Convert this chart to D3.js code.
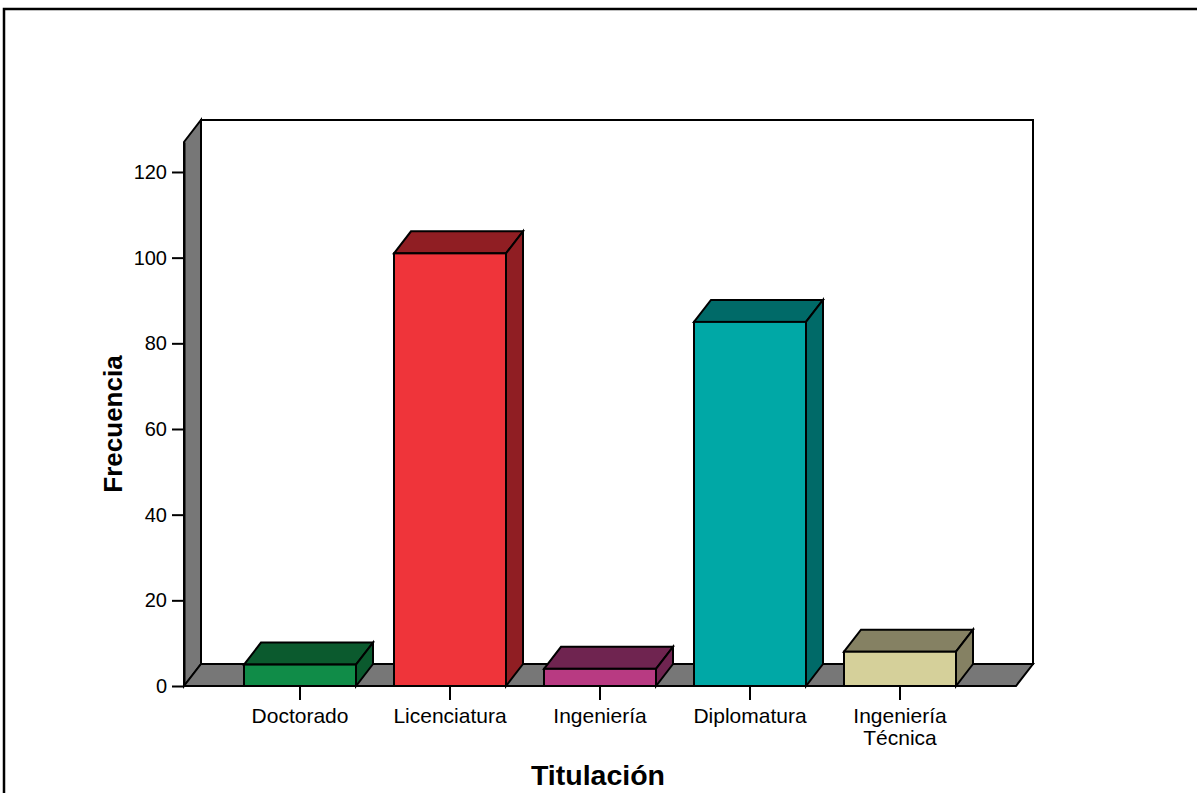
<!DOCTYPE html>
<html>
<head>
<meta charset="utf-8">
<script src="https://cdn.jsdelivr.net/npm/d3@7"></script>
<style>
  html, body { margin: 0; padding: 0; background: #fff; }
  svg { display: block; font-family: Arial, "Liberation Sans", sans-serif; }
</style>
</head>
<body>
<svg id="chart" width="1197" height="793"></svg>
<script>
// Data
const categories = ["Doctorado", "Licenciatura", "Ingeniería", "Diplomatura", "Ingeniería Técnica"];
const frequencies = [5, 101, 4, 85, 8];
const frontColors = ["#108C48", "#EF343A", "#B83A82", "#00A8A6", "#D5D09A"];
const shadeColors = ["#0B5A2E", "#901E23", "#6F2450", "#006A68", "#858163"];
const yTicks = [0, 20, 40, 60, 80, 100, 120];
const xTitle = "Titulación";
const yTitle = "Frecuencia";

const svg = d3.select("#chart");

// Outer frame (top and left borders)
svg.append("path")
  .attr("d", "M4,793 L4,9 L1197,9")
  .attr("fill", "none").attr("stroke", "#000").attr("stroke-width", 2.5);

// Scales
const x0 = 184, x1 = 1016;
const dx = 17, dy = -22;
const y = d3.scaleLinear().domain([0, 127]).range([686, 142]);
const x = d3.scaleBand().domain(categories).range([225, 975])
  .paddingInner(38 / 150).paddingOuter(19 / 150);
const y0 = y(0), yTop = y(127);
const bw = x.bandwidth();

const g = svg.append("g");
const stroke = { "stroke": "#000", "stroke-width": 2, "stroke-linejoin": "miter" };
function poly(pts, fill) {
  const p = g.append("polygon").attr("points", pts.map(d => d.join(",")).join(" ")).attr("fill", fill);
  Object.entries(stroke).forEach(([k, v]) => p.attr(k, v));
  return p;
}

// Back wall
poly([[x0 + dx, yTop + dy], [x1 + dx, yTop + dy], [x1 + dx, y0 + dy], [x0 + dx, y0 + dy]], "#fff");
// Left wall
poly([[x0, y0], [x0, yTop], [x0 + dx, yTop + dy], [x0 + dx, y0 + dy]], "#777777");
// Floor
poly([[x0, y0], [x1, y0], [x1 + dx, y0 + dy], [x0 + dx, y0 + dy]], "#777777");

// Bars
categories.forEach((c, i) => {
  const bx = x(c), yv = y(frequencies[i]);
  poly([[bx, yv], [bx + dx, yv + dy], [bx + bw + dx, yv + dy], [bx + bw, yv]], shadeColors[i]);
  poly([[bx + bw, yv], [bx + bw + dx, yv + dy], [bx + bw + dx, y0 + dy], [bx + bw, y0]], shadeColors[i]);
  const r = g.append("rect").attr("x", bx).attr("y", yv).attr("width", bw).attr("height", y0 - yv)
    .attr("fill", frontColors[i]);
  Object.entries(stroke).forEach(([k, v]) => r.attr(k, v));
});

// Y axis
const yAxis = d3.axisLeft(y).tickValues(yTicks).tickSize(12).tickPadding(5).tickSizeOuter(0);
const ya = svg.append("g").attr("transform", `translate(${x0},0)`).call(yAxis);
ya.attr("font-size", 20).attr("font-family", "Arial, 'Liberation Sans', sans-serif");
ya.select(".domain").attr("stroke", "#000").attr("stroke-width", 2);
ya.selectAll(".tick line").attr("stroke", "#000").attr("stroke-width", 2);
ya.selectAll(".tick text").attr("fill", "#000");

// X axis ticks and labels
const xAxis = d3.axisBottom(x).tickSize(14).tickSizeOuter(0).tickFormat("");
const xa = svg.append("g").attr("transform", `translate(0,${y0})`).call(xAxis);
xa.select(".domain").remove();
xa.selectAll(".tick line").attr("stroke", "#000").attr("stroke-width", 2);
categories.forEach(c => {
  const words = c.split(" ");
  const t = svg.append("text").attr("x", x(c) + bw / 2).attr("y", 723)
    .attr("text-anchor", "middle").attr("font-size", 21).attr("fill", "#000");
  words.forEach((w, k) => {
    t.append("tspan").attr("x", x(c) + bw / 2).attr("dy", k === 0 ? 0 : 22).text(w);
  });
});

// Axis titles
svg.append("text").attr("x", 598).attr("y", 785)
  .attr("text-anchor", "middle").attr("font-size", 28.5).attr("font-weight", "bold").text(xTitle);
svg.append("text").attr("transform", `translate(122,424) rotate(-90)`)
  .attr("text-anchor", "middle").attr("font-size", 26).attr("font-weight", "bold").text(yTitle);
</script>
</body>
</html>
